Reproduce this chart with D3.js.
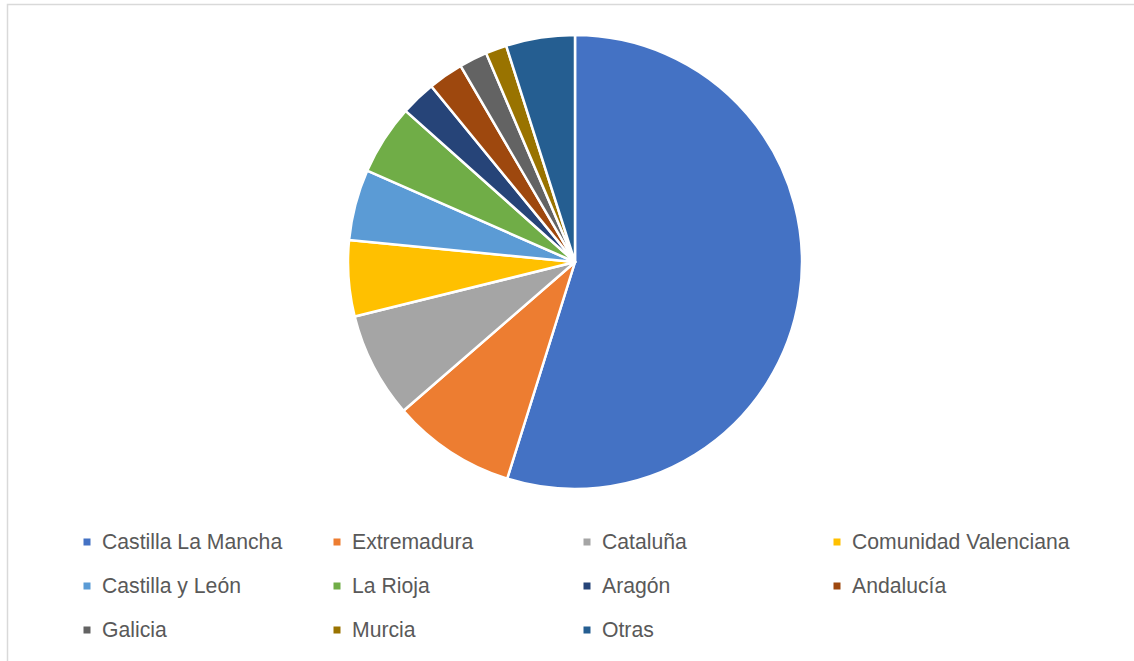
<!DOCTYPE html>
<html>
<head>
<meta charset="utf-8">
<script src="https://cdn.jsdelivr.net/npm/d3@7"></script>
<style>
  html, body { margin: 0; padding: 0; background: #fff; }
  svg { display: block; }
</style>
</head>
<body>
<svg id="chart" width="1134" height="661"></svg>
<script>
// Share of production by region (%)
const regions = ["Castilla La Mancha", "Extremadura", "Cataluña", "Comunidad Valenciana",
  "Castilla y León", "La Rioja", "Aragón", "Andalucía", "Galicia", "Murcia", "Otras"];
const shares = [54.8, 8.8, 7.5, 5.4, 5.05, 5.0, 2.5, 2.5, 2.0, 1.5, 4.9];
const palette = ["#4472C4", "#ED7D31", "#A5A5A5", "#FFC000", "#5B9BD5", "#70AD47",
  "#264478", "#9E480E", "#636363", "#997300", "#255E91"];

const svg = d3.select("#chart");
const W = 1134, H = 661;

// chart area frame
svg.append("rect")
  .attr("x", 7.5).attr("y", 4.5)
  .attr("width", W + 10).attr("height", H + 10)
  .attr("fill", "#fff").attr("stroke", "#d9d9d9").attr("stroke-width", 1.5);

const cx = 575, cy = 262, radius = 227;

const data = regions.map((name, i) => ({ name, value: shares[i], color: palette[i] }));

const pie = d3.pie().value(d => d.value).sort(null);
const arc = d3.arc().innerRadius(0).outerRadius(radius);

svg.append("g")
  .attr("transform", `translate(${cx},${cy})`)
  .selectAll("path")
  .data(pie(data))
  .join("path")
  .attr("d", arc)
  .attr("fill", d => d.data.color)
  .attr("stroke", "#fff")
  .attr("stroke-width", 2.5)
  .attr("stroke-linejoin", "round");

// legend: four columns, three rows
const colX = d3.scalePoint().domain(d3.range(4)).range([102, 852]);
const rowY = d3.scalePoint().domain(d3.range(3)).range([549, 637]);

const legend = svg.append("g")
  .selectAll("g")
  .data(data)
  .join("g")
  .attr("transform", (d, i) => `translate(${colX(i % 4)},${rowY(Math.floor(i / 4))})`);

legend.append("rect")
  .attr("x", -18.5).attr("y", -10.5)
  .attr("width", 7).attr("height", 7)
  .attr("fill", d => d.color);

legend.append("text")
  .attr("x", 0).attr("y", 0)
  .attr("font-family", "'Liberation Sans', Arial, sans-serif")
  .attr("font-size", 21.2)
  .attr("fill", "#595959")
  .text(d => d.name);
</script>
</body>
</html>
